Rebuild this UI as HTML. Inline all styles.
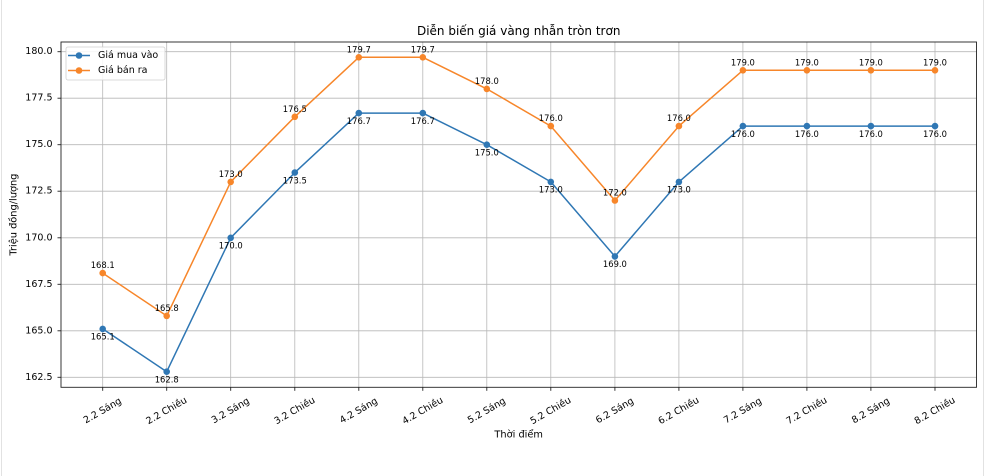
<!DOCTYPE html>
<html>
<head>
<meta charset="utf-8">
<style>
  html,body{margin:0;padding:0;background:#fff;}
  svg{display:block;}
  text{font-family:"DejaVu Sans","Liberation Sans",sans-serif;fill:#000;}
</style>
</head>
<body>
<svg width="988" height="476" viewBox="0 0 988 476" xmlns="http://www.w3.org/2000/svg">
  <rect x="0" y="0" width="988" height="476" fill="#fff"/>
  <line x1="1.5" y1="0" x2="1.5" y2="476" stroke="#e2e2e2" stroke-width="1"/>
  <line x1="983.5" y1="0" x2="983.5" y2="476" stroke="#e2e2e2" stroke-width="1"/>

  <!-- grid -->
  <g stroke="#b8b8b8" stroke-width="0.8">
    <line x1="102.7" y1="42" x2="102.7" y2="387.3"/>
    <line x1="166.7" y1="42" x2="166.7" y2="387.3"/>
    <line x1="230.7" y1="42" x2="230.7" y2="387.3"/>
    <line x1="294.8" y1="42" x2="294.8" y2="387.3"/>
    <line x1="358.8" y1="42" x2="358.8" y2="387.3"/>
    <line x1="422.8" y1="42" x2="422.8" y2="387.3"/>
    <line x1="486.8" y1="42" x2="486.8" y2="387.3"/>
    <line x1="550.8" y1="42" x2="550.8" y2="387.3"/>
    <line x1="614.9" y1="42" x2="614.9" y2="387.3"/>
    <line x1="678.9" y1="42" x2="678.9" y2="387.3"/>
    <line x1="742.9" y1="42" x2="742.9" y2="387.3"/>
    <line x1="806.9" y1="42" x2="806.9" y2="387.3"/>
    <line x1="870.9" y1="42" x2="870.9" y2="387.3"/>
    <line x1="935.0" y1="42" x2="935.0" y2="387.3"/>
    <line x1="61" y1="377.3" x2="976.5" y2="377.3"/>
    <line x1="61" y1="330.8" x2="976.5" y2="330.8"/>
    <line x1="61" y1="284.3" x2="976.5" y2="284.3"/>
    <line x1="61" y1="237.8" x2="976.5" y2="237.8"/>
    <line x1="61" y1="191.2" x2="976.5" y2="191.2"/>
    <line x1="61" y1="144.7" x2="976.5" y2="144.7"/>
    <line x1="61" y1="98.2" x2="976.5" y2="98.2"/>
    <line x1="61" y1="51.7" x2="976.5" y2="51.7"/>
  </g>

  <!-- axes frame -->
  <rect x="61" y="42" width="915.5" height="345.3" fill="none" stroke="#222" stroke-width="0.9"/>

  <!-- ticks -->
  <g stroke="#222" stroke-width="0.9">
    <line x1="57.5" y1="377.3" x2="61" y2="377.3"/>
    <line x1="57.5" y1="330.8" x2="61" y2="330.8"/>
    <line x1="57.5" y1="284.3" x2="61" y2="284.3"/>
    <line x1="57.5" y1="237.8" x2="61" y2="237.8"/>
    <line x1="57.5" y1="191.2" x2="61" y2="191.2"/>
    <line x1="57.5" y1="144.7" x2="61" y2="144.7"/>
    <line x1="57.5" y1="98.2" x2="61" y2="98.2"/>
    <line x1="57.5" y1="51.7" x2="61" y2="51.7"/>
    <line x1="102.7" y1="387.3" x2="102.7" y2="390.8"/>
    <line x1="166.7" y1="387.3" x2="166.7" y2="390.8"/>
    <line x1="230.7" y1="387.3" x2="230.7" y2="390.8"/>
    <line x1="294.8" y1="387.3" x2="294.8" y2="390.8"/>
    <line x1="358.8" y1="387.3" x2="358.8" y2="390.8"/>
    <line x1="422.8" y1="387.3" x2="422.8" y2="390.8"/>
    <line x1="486.8" y1="387.3" x2="486.8" y2="390.8"/>
    <line x1="550.8" y1="387.3" x2="550.8" y2="390.8"/>
    <line x1="614.9" y1="387.3" x2="614.9" y2="390.8"/>
    <line x1="678.9" y1="387.3" x2="678.9" y2="390.8"/>
    <line x1="742.9" y1="387.3" x2="742.9" y2="390.8"/>
    <line x1="806.9" y1="387.3" x2="806.9" y2="390.8"/>
    <line x1="870.9" y1="387.3" x2="870.9" y2="390.8"/>
    <line x1="935.0" y1="387.3" x2="935.0" y2="390.8"/>
  </g>

  <!-- y tick labels -->
  <g font-size="9.5" text-anchor="end" dominant-baseline="central">
    <text x="52.5" y="377.3">162.5</text>
    <text x="52.5" y="330.8">165.0</text>
    <text x="52.5" y="284.3">167.5</text>
    <text x="52.5" y="237.8">170.0</text>
    <text x="52.5" y="191.2">172.5</text>
    <text x="52.5" y="144.7">175.0</text>
    <text x="52.5" y="98.2">177.5</text>
    <text x="52.5" y="51.7">180.0</text>
  </g>

  <!-- x tick labels -->
  <g font-size="9.5" text-anchor="middle" dominant-baseline="central">
    <text transform="translate(102.7,411) rotate(-30)">2.2 Sáng</text>
    <text transform="translate(166.7,411) rotate(-30)">2.2 Chiều</text>
    <text transform="translate(230.7,411) rotate(-30)">3.2 Sáng</text>
    <text transform="translate(294.8,411) rotate(-30)">3.2 Chiều</text>
    <text transform="translate(358.8,411) rotate(-30)">4.2 Sáng</text>
    <text transform="translate(422.8,411) rotate(-30)">4.2 Chiều</text>
    <text transform="translate(486.8,411) rotate(-30)">5.2 Sáng</text>
    <text transform="translate(550.8,411) rotate(-30)">5.2 Chiều</text>
    <text transform="translate(614.9,411) rotate(-30)">6.2 Sáng</text>
    <text transform="translate(678.9,411) rotate(-30)">6.2 Chiều</text>
    <text transform="translate(742.9,411) rotate(-30)">7.2 Sáng</text>
    <text transform="translate(806.9,411) rotate(-30)">7.2 Chiều</text>
    <text transform="translate(870.9,411) rotate(-30)">8.2 Sáng</text>
    <text transform="translate(935.0,411) rotate(-30)">8.2 Chiều</text>
  </g>

  <!-- axis labels & title -->
  <text x="518.7" y="435" font-size="9.8" text-anchor="middle" dominant-baseline="central">Thời điểm</text>
  <text transform="translate(14,214.6) rotate(-90)" font-size="9.8" text-anchor="middle" dominant-baseline="central">Triệu đồng/lượng</text>
  <text x="518.7" y="31" font-size="12" text-anchor="middle" dominant-baseline="central">Diễn biến giá vàng nhẫn tròn trơn</text>

  <!-- buy series -->
  <polyline fill="none" stroke="#2f77b4" stroke-width="1.5" stroke-linejoin="round"
    points="102.7,328.9 166.7,371.7 230.7,237.8 294.8,172.6 358.8,113.1 422.8,113.1 486.8,144.7 550.8,181.9 614.9,256.4 678.9,181.9 742.9,126.1 806.9,126.1 870.9,126.1 935.0,126.1"/>
  <g fill="#2f77b4">
    <circle cx="102.7" cy="328.9" r="3.3"/><circle cx="166.7" cy="371.7" r="3.3"/>
    <circle cx="230.7" cy="237.8" r="3.3"/><circle cx="294.8" cy="172.6" r="3.3"/>
    <circle cx="358.8" cy="113.1" r="3.3"/><circle cx="422.8" cy="113.1" r="3.3"/>
    <circle cx="486.8" cy="144.7" r="3.3"/><circle cx="550.8" cy="181.9" r="3.3"/>
    <circle cx="614.9" cy="256.4" r="3.3"/><circle cx="678.9" cy="181.9" r="3.3"/>
    <circle cx="742.9" cy="126.1" r="3.3"/><circle cx="806.9" cy="126.1" r="3.3"/>
    <circle cx="870.9" cy="126.1" r="3.3"/><circle cx="935.0" cy="126.1" r="3.3"/>
  </g>

  <!-- sell series -->
  <polyline fill="none" stroke="#f7862a" stroke-width="1.5" stroke-linejoin="round"
    points="102.7,273.1 166.7,315.9 230.7,181.9 294.8,116.8 358.8,57.3 422.8,57.3 486.8,88.9 550.8,126.1 614.9,200.5 678.9,126.1 742.9,70.3 806.9,70.3 870.9,70.3 935.0,70.3"/>
  <g fill="#f7862a">
    <circle cx="102.7" cy="273.1" r="3.3"/><circle cx="166.7" cy="315.9" r="3.3"/>
    <circle cx="230.7" cy="181.9" r="3.3"/><circle cx="294.8" cy="116.8" r="3.3"/>
    <circle cx="358.8" cy="57.3" r="3.3"/><circle cx="422.8" cy="57.3" r="3.3"/>
    <circle cx="486.8" cy="88.9" r="3.3"/><circle cx="550.8" cy="126.1" r="3.3"/>
    <circle cx="614.9" cy="200.5" r="3.3"/><circle cx="678.9" cy="126.1" r="3.3"/>
    <circle cx="742.9" cy="70.3" r="3.3"/><circle cx="806.9" cy="70.3" r="3.3"/>
    <circle cx="870.9" cy="70.3" r="3.3"/><circle cx="935.0" cy="70.3" r="3.3"/>
  </g>

  <!-- buy annotations (below) -->
  <g font-size="8.4" text-anchor="middle" dominant-baseline="central">
    <text x="102.7" y="336.6">165.1</text>
    <text x="166.7" y="379.4">162.8</text>
    <text x="230.7" y="245.5">170.0</text>
    <text x="294.8" y="180.3">173.5</text>
    <text x="358.8" y="120.8">176.7</text>
    <text x="422.8" y="120.8">176.7</text>
    <text x="486.8" y="152.4">175.0</text>
    <text x="550.8" y="189.6">173.0</text>
    <text x="614.9" y="264.1">169.0</text>
    <text x="678.9" y="189.6">173.0</text>
    <text x="742.9" y="133.8">176.0</text>
    <text x="806.9" y="133.8">176.0</text>
    <text x="870.9" y="133.8">176.0</text>
    <text x="935.0" y="133.8">176.0</text>
  </g>

  <!-- sell annotations (above) -->
  <g font-size="8.4" text-anchor="middle" dominant-baseline="central">
    <text x="102.7" y="265.1">168.1</text>
    <text x="166.7" y="307.9">165.8</text>
    <text x="230.7" y="173.9">173.0</text>
    <text x="294.8" y="108.8">176.5</text>
    <text x="358.8" y="49.3">179.7</text>
    <text x="422.8" y="49.3">179.7</text>
    <text x="486.8" y="80.9">178.0</text>
    <text x="550.8" y="118.1">176.0</text>
    <text x="614.9" y="192.5">172.0</text>
    <text x="678.9" y="118.1">176.0</text>
    <text x="742.9" y="62.3">179.0</text>
    <text x="806.9" y="62.3">179.0</text>
    <text x="870.9" y="62.3">179.0</text>
    <text x="935.0" y="62.3">179.0</text>
  </g>

  <!-- legend -->
  <rect x="66" y="47" width="99" height="33" rx="2" fill="#fff" fill-opacity="0.85" stroke="#d0d0d0" stroke-width="0.8"/>
  <line x1="68" y1="55.5" x2="90" y2="55.5" stroke="#2f77b4" stroke-width="1.5"/>
  <circle cx="79" cy="55.5" r="3.3" fill="#2f77b4"/>
  <line x1="68" y1="70.5" x2="90" y2="70.5" stroke="#f7862a" stroke-width="1.5"/>
  <circle cx="79" cy="70.5" r="3.3" fill="#f7862a"/>
  <g font-size="9.5" dominant-baseline="central">
    <text x="98" y="55.5">Giá mua vào</text>
    <text x="98" y="70.5">Giá bán ra</text>
  </g>
</svg>
</body>
</html>
